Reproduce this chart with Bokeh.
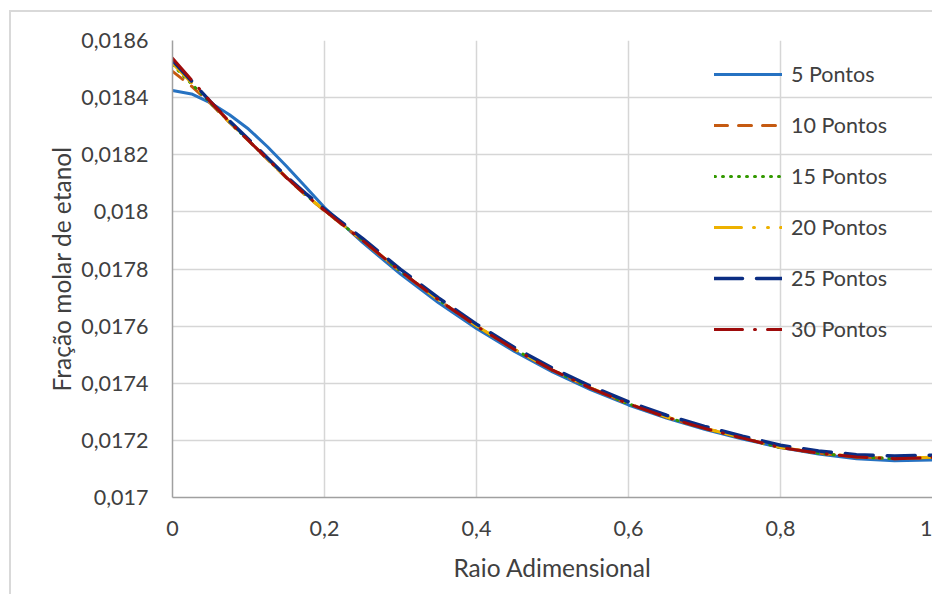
from bokeh.plotting import figure
from bokeh.models import (FixedTicker, CustomJSTickFormatter, Legend, LegendItem, Range1d)
from bokeh.embed import file_html
from bokeh.resources import INLINE

# ---------------- data ----------------
raio = [0.0, 0.025, 0.05, 0.075, 0.1, 0.125, 0.15, 0.175, 0.2, 0.25, 0.3, 0.35, 0.4,
        0.45, 0.5, 0.55, 0.6, 0.65, 0.7, 0.75, 0.8, 0.85, 0.9, 0.95, 1.0]

pontos_5 = [0.018425, 0.018413, 0.018382, 0.018340, 0.018290, 0.018228, 0.018160,
            0.018088, 0.018015, 0.017893, 0.017782, 0.017682, 0.017592, 0.017511,
            0.017440, 0.017378, 0.017324, 0.017278, 0.017239, 0.017205, 0.017175,
            0.017152, 0.017136, 0.017129, 0.017131]
pontos_10 = [0.018492, 0.018440, 0.018380, 0.018313, 0.018249, 0.018184, 0.018119,
             0.018059, 0.018004, 0.017899, 0.017791, 0.017692, 0.017600, 0.017518,
             0.017446, 0.017383, 0.017328, 0.017281, 0.017242, 0.017208, 0.017175,
             0.017155, 0.017142, 0.017136, 0.017140]
pontos_15 = [0.018515, 0.018448, 0.018382, 0.018314, 0.018250, 0.018185, 0.018120,
             0.018060, 0.018005, 0.017900, 0.017792, 0.017692, 0.017600, 0.017518,
             0.017446, 0.017383, 0.017328, 0.017281, 0.017242, 0.017208, 0.017175,
             0.017155, 0.017142, 0.017136, 0.017140]
pontos_20 = [0.018520, 0.018452, 0.018383, 0.018314, 0.018250, 0.018185, 0.018120,
             0.018060, 0.018005, 0.017900, 0.017792, 0.017692, 0.017601, 0.017519,
             0.017447, 0.017384, 0.017329, 0.017282, 0.017243, 0.017209, 0.017176,
             0.017156, 0.017143, 0.017137, 0.017141]
pontos_25 = [0.018530, 0.018458, 0.018386, 0.018318, 0.018254, 0.018189, 0.018124,
             0.018065, 0.018010, 0.017907, 0.017799, 0.017699, 0.017607, 0.017525,
             0.017453, 0.017390, 0.017335, 0.017288, 0.017249, 0.017215, 0.017183,
             0.017163, 0.017150, 0.017145, 0.017148]
pontos_30 = [0.018538, 0.018462, 0.018386, 0.018315, 0.018250, 0.018185, 0.018120,
             0.018060, 0.018005, 0.017900, 0.017792, 0.017692, 0.017600, 0.017518,
             0.017446, 0.017383, 0.017328, 0.017281, 0.017242, 0.017208, 0.017175,
             0.017155, 0.017142, 0.017136, 0.017140]

series_labels = ["5 Pontos", "10 Pontos", "15 Pontos", "20 Pontos", "25 Pontos", "30 Pontos"]
series_values = [pontos_5, pontos_10, pontos_15, pontos_20, pontos_25, pontos_30]

x_ticks = [0, 0.2, 0.4, 0.6, 0.8, 1.0]
y_ticks = [0.017, 0.0172, 0.0174, 0.0176, 0.0178, 0.018, 0.0182, 0.0184, 0.0186]

x_title = "Raio Adimensional"
y_title = "Fração molar de etanol"

# ---------------- styles ----------------
colors = ["#2672C2", "#C55A11", "#339900", "#EDB100", "#0B2D83", "#9E0B0B"]
dashes = ["solid", "13 11", "1 7", "27 12 1 13 1 12", "28 14", "28 12 1 12"]
widths = [3, 3, 3, 3, 3.5, 3]
FONT = "Lato"
TXT = "#404040"
FS = "21.5px"
FS_TITLE = "24.5px"

p = figure(width=932, height=594, x_range=Range1d(0, 1), y_range=Range1d(0.017, 0.0186),
           output_backend="svg", toolbar_location=None,
           min_border_left=172, min_border_top=40, min_border_right=0, min_border_bottom=97)
p.outline_line_color = None
p.background_fill_color = "white"
p.border_fill_alpha = 0
# light outer chart border (left and top edges) drawn behind the transparent canvas border
p.styles = {
    "background-color": "white",
    "background-image": "linear-gradient(#D9D9D9,#D9D9D9), linear-gradient(#D9D9D9,#D9D9D9)",
    "background-repeat": "no-repeat",
    "background-position": "9px 10px, 9px 10px",
    "background-size": "2px 100%, 100% 2px",
}

fmt = CustomJSTickFormatter(code="""
    let s = tick.toFixed(6).replace(/0+$/, '').replace(/\\.$/, '');
    return s.replace('.', ',');
""")

p.xaxis.ticker = FixedTicker(ticks=x_ticks)
p.yaxis.ticker = FixedTicker(ticks=y_ticks)
for ax in (p.xaxis[0], p.yaxis[0]):
    ax.formatter = fmt
    ax.axis_line_color = "#A0A0A0"
    ax.axis_line_width = 1.5
    ax.major_tick_out = 0
    ax.major_tick_in = 0
    ax.minor_tick_out = 0
    ax.minor_tick_in = 0
    ax.major_label_text_font = FONT
    ax.major_label_text_font_size = FS
    ax.major_label_text_color = TXT
    ax.axis_label_text_font = FONT
    ax.axis_label_text_font_size = FS_TITLE
    ax.axis_label_text_color = TXT
    ax.axis_label_text_font_style = "normal"

p.xaxis.axis_label = x_title
p.yaxis.axis_label = y_title
p.xaxis.major_label_standoff = 23
p.xaxis.axis_label_standoff = 14
p.yaxis.major_label_standoff = 24
p.yaxis.axis_label_standoff = 2

for g in (p.xgrid[0], p.ygrid[0]):
    g.grid_line_color = "#D6D6D6"
    g.grid_line_width = 1.5
p.xgrid.ticker = FixedTicker(ticks=x_ticks)
p.ygrid.ticker = FixedTicker(ticks=y_ticks)

items = []
for lab, vals, c, d, w in zip(series_labels, series_values, colors, dashes, widths):
    r = p.line(raio, vals, line_color=c, line_width=w, line_dash=d, line_cap="round")
    items.append(LegendItem(label=lab, renderers=[r]))

legend = Legend(items=items, location=(542, 155), padding=0, margin=0,
                glyph_width=68, glyph_height=26, label_height=26, spacing=25,
                label_standoff=9, background_fill_alpha=0, border_line_color=None,
                label_text_font=FONT, label_text_font_size=FS, label_text_color=TXT)
p.add_layout(legend)

open("out.html", "w").write(file_html(p, INLINE))
